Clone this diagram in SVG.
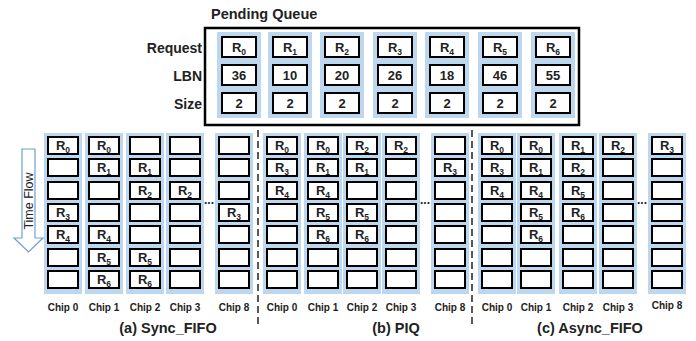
<svg xmlns="http://www.w3.org/2000/svg" xmlns:xlink="http://www.w3.org/1999/xlink" width="696" height="341" viewBox="0 0 696 341">
<style>
.blue{fill:#bdd7ee}
.box{fill:#fff;stroke:#000;stroke-width:2}
.t{font-family:"Liberation Sans",Arial,sans-serif;font-weight:bold;font-size:13px;text-anchor:middle;fill:#222}
.lbl{font-family:"Liberation Sans",Arial,sans-serif;font-weight:bold;font-size:14px;text-anchor:end;fill:#222}
.chip{font-family:"Liberation Sans",Arial,sans-serif;font-weight:bold;font-size:10px;text-anchor:middle;fill:#222}
.title{font-family:"Liberation Sans",Arial,sans-serif;font-weight:bold;font-size:14.5px;text-anchor:middle;fill:#222}
.dots{font-family:"Liberation Sans",Arial,sans-serif;font-weight:bold;font-size:12px;fill:#222}
.sub{font-size:8.5px}
.dash{stroke:#000;stroke-width:1.3;stroke-dasharray:7,4;fill:none}
</style>
<defs>
<g id="col">
<rect class="blue" x="0" y="133" width="38" height="161"/>
<rect class="box" x="4" y="137" width="30" height="17"/>
<rect class="box" x="4" y="159" width="30" height="17"/>
<rect class="box" x="4" y="182" width="30" height="17"/>
<rect class="box" x="4" y="204" width="30" height="17"/>
<rect class="box" x="4" y="226" width="30" height="17"/>
<rect class="box" x="4" y="249" width="30" height="17"/>
<rect class="box" x="4" y="271" width="30" height="17"/>
</g>
<g id="pcol">
<rect class="blue" x="0" y="32" width="44" height="86"/>
<rect class="box" x="5" y="37" width="34" height="20"/>
<rect class="box" x="5" y="65" width="34" height="20"/>
<rect class="box" x="5" y="93" width="34" height="20"/>
</g>
</defs>

<g id="pending-queue">
<text x="211" y="19" class="title" style="text-anchor:start">Pending Queue</text>
<rect x="205" y="28" width="374" height="97" fill="none" stroke="#000" stroke-width="2.5"/>
<text x="202" y="53" class="lbl">Request</text>
<text x="202" y="81" class="lbl">LBN</text>
<text x="202" y="109" class="lbl">Size</text>
<g id="p0"><use xlink:href="#pcol" x="217"/><text class="t" x="239" y="52">R<tspan class="sub" dy="3">0</tspan></text><text class="t" x="239" y="80">36</text><text class="t" x="239" y="108">2</text></g>
<g id="p1"><use xlink:href="#pcol" x="268"/><text class="t" x="290" y="52">R<tspan class="sub" dy="3">1</tspan></text><text class="t" x="290" y="80">10</text><text class="t" x="290" y="108">2</text></g>
<g id="p2"><use xlink:href="#pcol" x="320"/><text class="t" x="342" y="52">R<tspan class="sub" dy="3">2</tspan></text><text class="t" x="342" y="80">20</text><text class="t" x="342" y="108">2</text></g>
<g id="p3"><use xlink:href="#pcol" x="373"/><text class="t" x="395" y="52">R<tspan class="sub" dy="3">3</tspan></text><text class="t" x="395" y="80">26</text><text class="t" x="395" y="108">2</text></g>
<g id="p4"><use xlink:href="#pcol" x="425"/><text class="t" x="447" y="52">R<tspan class="sub" dy="3">4</tspan></text><text class="t" x="447" y="80">18</text><text class="t" x="447" y="108">2</text></g>
<g id="p5"><use xlink:href="#pcol" x="478"/><text class="t" x="500" y="52">R<tspan class="sub" dy="3">5</tspan></text><text class="t" x="500" y="80">46</text><text class="t" x="500" y="108">2</text></g>
<g id="p6"><use xlink:href="#pcol" x="531"/><text class="t" x="553" y="52">R<tspan class="sub" dy="3">6</tspan></text><text class="t" x="553" y="80">55</text><text class="t" x="553" y="108">2</text></g>
</g>

<g id="time-flow">
<path d="M22,149 H35 V238 H43 L28.5,252 L14,238 H22 Z" fill="#fff" stroke="#6f9fd0" stroke-width="1.2"/>
<text transform="translate(33,201) rotate(-90)" style="font-family:'Liberation Sans',Arial,sans-serif;font-size:12.5px;text-anchor:middle;fill:#222">Time Flow</text>
</g>

<g id="dividers">
<line class="dash" x1="258" y1="130" x2="258" y2="326"/>
<line class="dash" x1="472" y1="130" x2="472" y2="326"/>
</g>

<g id="sync-fifo">
<g id="s-chip0"><use xlink:href="#col" x="44"/>
<text class="t" x="63" y="150">R<tspan class="sub" dy="3">0</tspan></text>
<text class="t" x="63" y="217">R<tspan class="sub" dy="3">3</tspan></text>
<text class="t" x="63" y="239">R<tspan class="sub" dy="3">4</tspan></text>
<text class="chip" x="63" y="311">Chip 0</text></g>
<g id="s-chip1"><use xlink:href="#col" x="85"/>
<text class="t" x="104" y="150">R<tspan class="sub" dy="3">0</tspan></text>
<text class="t" x="104" y="172">R<tspan class="sub" dy="3">1</tspan></text>
<text class="t" x="104" y="239">R<tspan class="sub" dy="3">4</tspan></text>
<text class="t" x="104" y="262">R<tspan class="sub" dy="3">5</tspan></text>
<text class="t" x="104" y="284">R<tspan class="sub" dy="3">6</tspan></text>
<text class="chip" x="104" y="311">Chip 1</text></g>
<g id="s-chip2"><use xlink:href="#col" x="126"/>
<text class="t" x="145" y="172">R<tspan class="sub" dy="3">1</tspan></text>
<text class="t" x="145" y="195">R<tspan class="sub" dy="3">2</tspan></text>
<text class="t" x="145" y="262">R<tspan class="sub" dy="3">5</tspan></text>
<text class="t" x="145" y="284">R<tspan class="sub" dy="3">6</tspan></text>
<text class="chip" x="145" y="311">Chip 2</text></g>
<g id="s-chip3"><use xlink:href="#col" x="166"/>
<text class="t" x="185" y="195">R<tspan class="sub" dy="3">2</tspan></text>
<text class="chip" x="185" y="311">Chip 3</text></g>
<text class="dots" x="204" y="204">...</text>
<g id="s-chip8"><use xlink:href="#col" x="215"/>
<text class="t" x="234" y="217">R<tspan class="sub" dy="3">3</tspan></text>
<text class="chip" x="234" y="311">Chip 8</text></g>
<text class="title" x="168" y="333">(a) Sync_FIFO</text>
</g>

<g id="piq">
<g id="p-chip0"><use xlink:href="#col" x="263"/>
<text class="t" x="282" y="150">R<tspan class="sub" dy="3">0</tspan></text>
<text class="t" x="282" y="172">R<tspan class="sub" dy="3">3</tspan></text>
<text class="t" x="282" y="195">R<tspan class="sub" dy="3">4</tspan></text>
<text class="chip" x="282" y="311">Chip 0</text></g>
<g id="p-chip1"><use xlink:href="#col" x="304"/>
<text class="t" x="323" y="150">R<tspan class="sub" dy="3">0</tspan></text>
<text class="t" x="323" y="172">R<tspan class="sub" dy="3">1</tspan></text>
<text class="t" x="323" y="195">R<tspan class="sub" dy="3">4</tspan></text>
<text class="t" x="323" y="217">R<tspan class="sub" dy="3">5</tspan></text>
<text class="t" x="323" y="239">R<tspan class="sub" dy="3">6</tspan></text>
<text class="chip" x="323" y="311">Chip 1</text></g>
<g id="p-chip2"><use xlink:href="#col" x="343"/>
<text class="t" x="362" y="150">R<tspan class="sub" dy="3">2</tspan></text>
<text class="t" x="362" y="172">R<tspan class="sub" dy="3">1</tspan></text>
<text class="t" x="362" y="217">R<tspan class="sub" dy="3">5</tspan></text>
<text class="t" x="362" y="239">R<tspan class="sub" dy="3">6</tspan></text>
<text class="chip" x="362" y="311">Chip 2</text></g>
<g id="p-chip3"><use xlink:href="#col" x="382"/>
<text class="t" x="401" y="150">R<tspan class="sub" dy="3">2</tspan></text>
<text class="chip" x="401" y="311">Chip 3</text></g>
<text class="dots" x="420" y="204">...</text>
<g id="p-chip8"><use xlink:href="#col" x="431"/>
<text class="t" x="450" y="172">R<tspan class="sub" dy="3">3</tspan></text>
<text class="chip" x="450" y="311">Chip 8</text></g>
<text class="title" x="396" y="333">(b) PIQ</text>
</g>

<g id="async-fifo">
<g id="a-chip0"><use xlink:href="#col" x="478"/>
<text class="t" x="497" y="150">R<tspan class="sub" dy="3">0</tspan></text>
<text class="t" x="497" y="172">R<tspan class="sub" dy="3">3</tspan></text>
<text class="t" x="497" y="195">R<tspan class="sub" dy="3">4</tspan></text>
<text class="chip" x="497" y="311">Chip 0</text></g>
<g id="a-chip1"><use xlink:href="#col" x="517"/>
<text class="t" x="536" y="150">R<tspan class="sub" dy="3">0</tspan></text>
<text class="t" x="536" y="172">R<tspan class="sub" dy="3">1</tspan></text>
<text class="t" x="536" y="195">R<tspan class="sub" dy="3">4</tspan></text>
<text class="t" x="536" y="217">R<tspan class="sub" dy="3">5</tspan></text>
<text class="t" x="536" y="239">R<tspan class="sub" dy="3">6</tspan></text>
<text class="chip" x="536" y="311">Chip 1</text></g>
<g id="a-chip2"><use xlink:href="#col" x="559"/>
<text class="t" x="578" y="150">R<tspan class="sub" dy="3">1</tspan></text>
<text class="t" x="578" y="172">R<tspan class="sub" dy="3">2</tspan></text>
<text class="t" x="578" y="195">R<tspan class="sub" dy="3">5</tspan></text>
<text class="t" x="578" y="217">R<tspan class="sub" dy="3">6</tspan></text>
<text class="chip" x="578" y="311">Chip 2</text></g>
<g id="a-chip3"><use xlink:href="#col" x="599"/>
<text class="t" x="618" y="150">R<tspan class="sub" dy="3">2</tspan></text>
<text class="chip" x="618" y="311">Chip 3</text></g>
<text class="dots" x="637" y="204">...</text>
<g id="a-chip8"><use xlink:href="#col" x="648"/>
<text class="t" x="667" y="150">R<tspan class="sub" dy="3">3</tspan></text>
<text class="chip" x="667" y="309">Chip 8</text></g>
<text class="title" x="590" y="333">(c)  Async_FIFO</text>
</g>
</svg>
